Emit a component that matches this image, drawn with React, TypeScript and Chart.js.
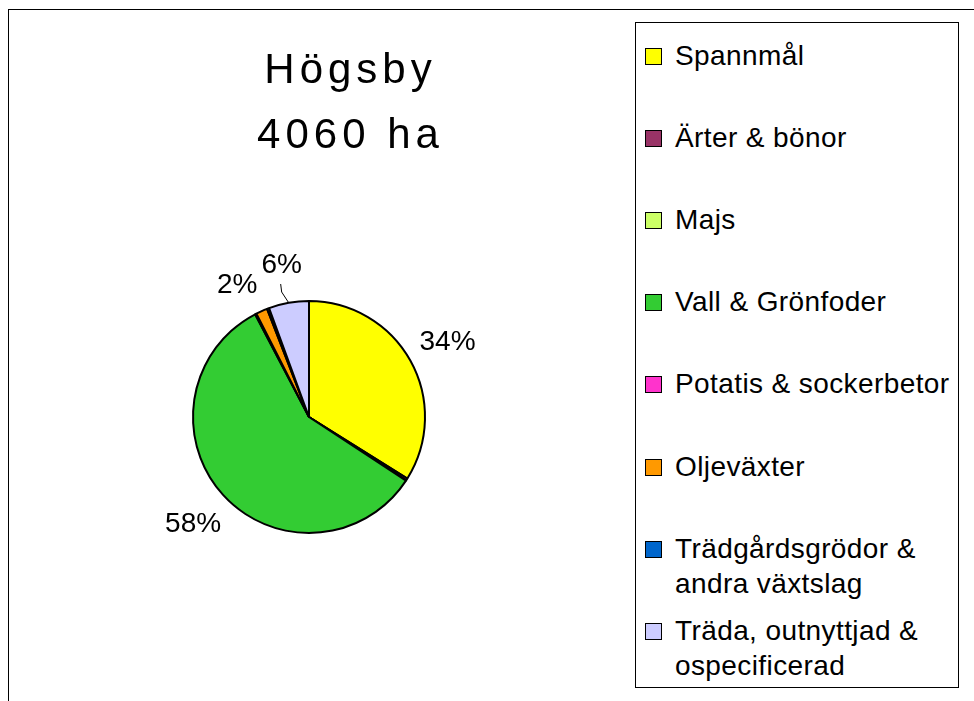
import React, { useEffect, useRef } from "react";
import { Chart, registerables } from "chart.js";

Chart.register(...registerables);

// ---- data ----
const titleLines = ["Högsby", "4060 ha"];
const categories = [
  "Spannmål",
  "Ärter & bönor",
  "Majs",
  "Vall & Grönfoder",
  "Potatis & sockerbetor",
  "Oljeväxter",
  "Trädgårdsgrödor & andra växtslag",
  "Träda, outnyttjad & ospecificerad",
];
const areaHa = [1376, 12, 2, 2358, 8, 65, 12, 227];
const sliceColors = [
  "#FFFF00",
  "#993366",
  "#CCFF66",
  "#33CC33",
  "#FF33CC",
  "#FF9900",
  "#0066CC",
  "#CCCCFF",
];

const FONT = '"Liberation Sans", Arial, Helvetica, sans-serif';

const canvasTitle = {
  id: "canvasTitle",
  afterDraw(chart: any, _args: any, opts: any) {
    const ctx = chart.ctx;
    ctx.save();
    ctx.font = `${opts.size}px ${FONT}`;
    (ctx as any).letterSpacing = `${opts.spacing}px`;
    ctx.textAlign = "center";
    ctx.textBaseline = "middle";
    ctx.fillStyle = "#000";
    opts.lines.forEach((t: string, i: number) => {
      ctx.fillText(t, chart.width / 2 + opts.spacing / 2, opts.top + i * opts.lineHeight);
    });
    ctx.restore();
  },
};

const outsideLabels = {
  id: "outsideLabels",
  afterDatasetsDraw(chart: any, _args: any, opts: any) {
    const ctx = chart.ctx;
    const meta = chart.getDatasetMeta(0);
    const data = chart.data.datasets[0].data as number[];
    const total = data.reduce((a, b) => a + b, 0);
    ctx.save();
    (ctx as any).letterSpacing = "0px";
    ctx.font = `${opts.size}px ${FONT}`;
    ctx.fillStyle = "#000";
    ctx.strokeStyle = "#000";
    ctx.lineWidth = 1;
    ctx.textAlign = "center";
    ctx.textBaseline = "alphabetic";
    const capHalf = opts.size * 0.358;
    meta.data.forEach((arc: any, i: number) => {
      const pct = Math.round((data[i] / total) * 100);
      if (pct < 1) return;
      const { x, y, startAngle, endAngle, outerRadius } = arc.getProps(
        ["x", "y", "startAngle", "endAngle", "outerRadius"],
        true
      );
      const mid = (startAngle + endAngle) / 2;
      const c = Math.cos(mid);
      const s = Math.sin(mid);
      const text = pct + "%";
      const w = ctx.measureText(text).width;
      const extent = (Math.abs(c) * w) / 2 + Math.abs(s) * capHalf;
      const extra = (opts.extraOffset && opts.extraOffset[i]) || 0;
      const shift = (opts.shiftX && opts.shiftX[i]) || 0;
      const dist = outerRadius + opts.pad + extent + extra;
      const lx = x + c * dist + shift;
      const ly = y + s * dist;
      ctx.fillText(text, lx, ly + capHalf);
      if (extra > 0) {
        ctx.beginPath();
        ctx.moveTo(x + c * outerRadius, y + s * outerRadius);
        ctx.lineTo(lx, ly + capHalf + 19);
        ctx.lineTo(lx - 1, ly + capHalf + 11);
        ctx.stroke();
      }
    });
    ctx.restore();
  },
};

export default function App() {
  const ref = useRef<HTMLCanvasElement>(null);

  useEffect(() => {
    if (!ref.current) return;
    const chart = new Chart(ref.current, {
      type: "pie",
      data: {
        labels: categories,
        datasets: [
          {
            data: areaHa,
            backgroundColor: sliceColors,
            borderColor: "#000",
            borderWidth: 2,
          },
        ],
      },
      options: {
        responsive: false,
        animation: false,
        events: [],
        radius: 116,
        layout: { padding: { top: 169, bottom: 36, left: 40, right: 118 } },
        plugins: {
          legend: { display: false },
          tooltip: { enabled: false },
          title: { display: false },
          canvasTitle: { lines: titleLines, size: 42, spacing: 5, top: 71.5, lineHeight: 65 },
          outsideLabels: { size: 28, pad: 13, extraOffset: { 7: 14 }, shiftX: { 5: -12 } },
        } as any,
      } as any,
      plugins: [canvasTitle, outsideLabels],
    });
    return () => chart.destroy();
  }, []);

  return (
    <div
      style={{
        position: "fixed",
        left: 0,
        top: 0,
        width: 974,
        height: 701,
        overflow: "hidden",
        background: "#fff",
      }}
    >
      <div
        style={{
          position: "absolute",
          left: 8,
          top: 9,
          width: 2000,
          height: 2000,
          borderLeft: "1px solid #000",
          borderTop: "1px solid #000",
        }}
      />
      <canvas
        ref={ref}
        width={696}
        height={701}
        style={{ position: "absolute", left: 0, top: 0, display: "block" }}
      />
      <div
        style={{
          position: "absolute",
          left: 635,
          top: 22,
          width: 322,
          height: 664,
          border: "1px solid #000",
          background: "#fff",
          fontFamily: FONT,
          fontSize: 28,
          letterSpacing: "0.4px",
          color: "#000",
        }}
      >
        {categories.map((c, i) => (
          <div
            key={c}
            style={{ position: "absolute", left: 0, top: 14.8 + i * 82.14, width: 322, lineHeight: "35px" }}
          >
            <span
              style={{
                position: "absolute",
                left: 9,
                top: 10,
                width: 15,
                height: 15,
                border: "1px solid #000",
                background: sliceColors[i],
              }}
            />
            <div style={{ marginLeft: 39, width: 282 }}>{c}</div>
          </div>
        ))}
      </div>
    </div>
  );
}
